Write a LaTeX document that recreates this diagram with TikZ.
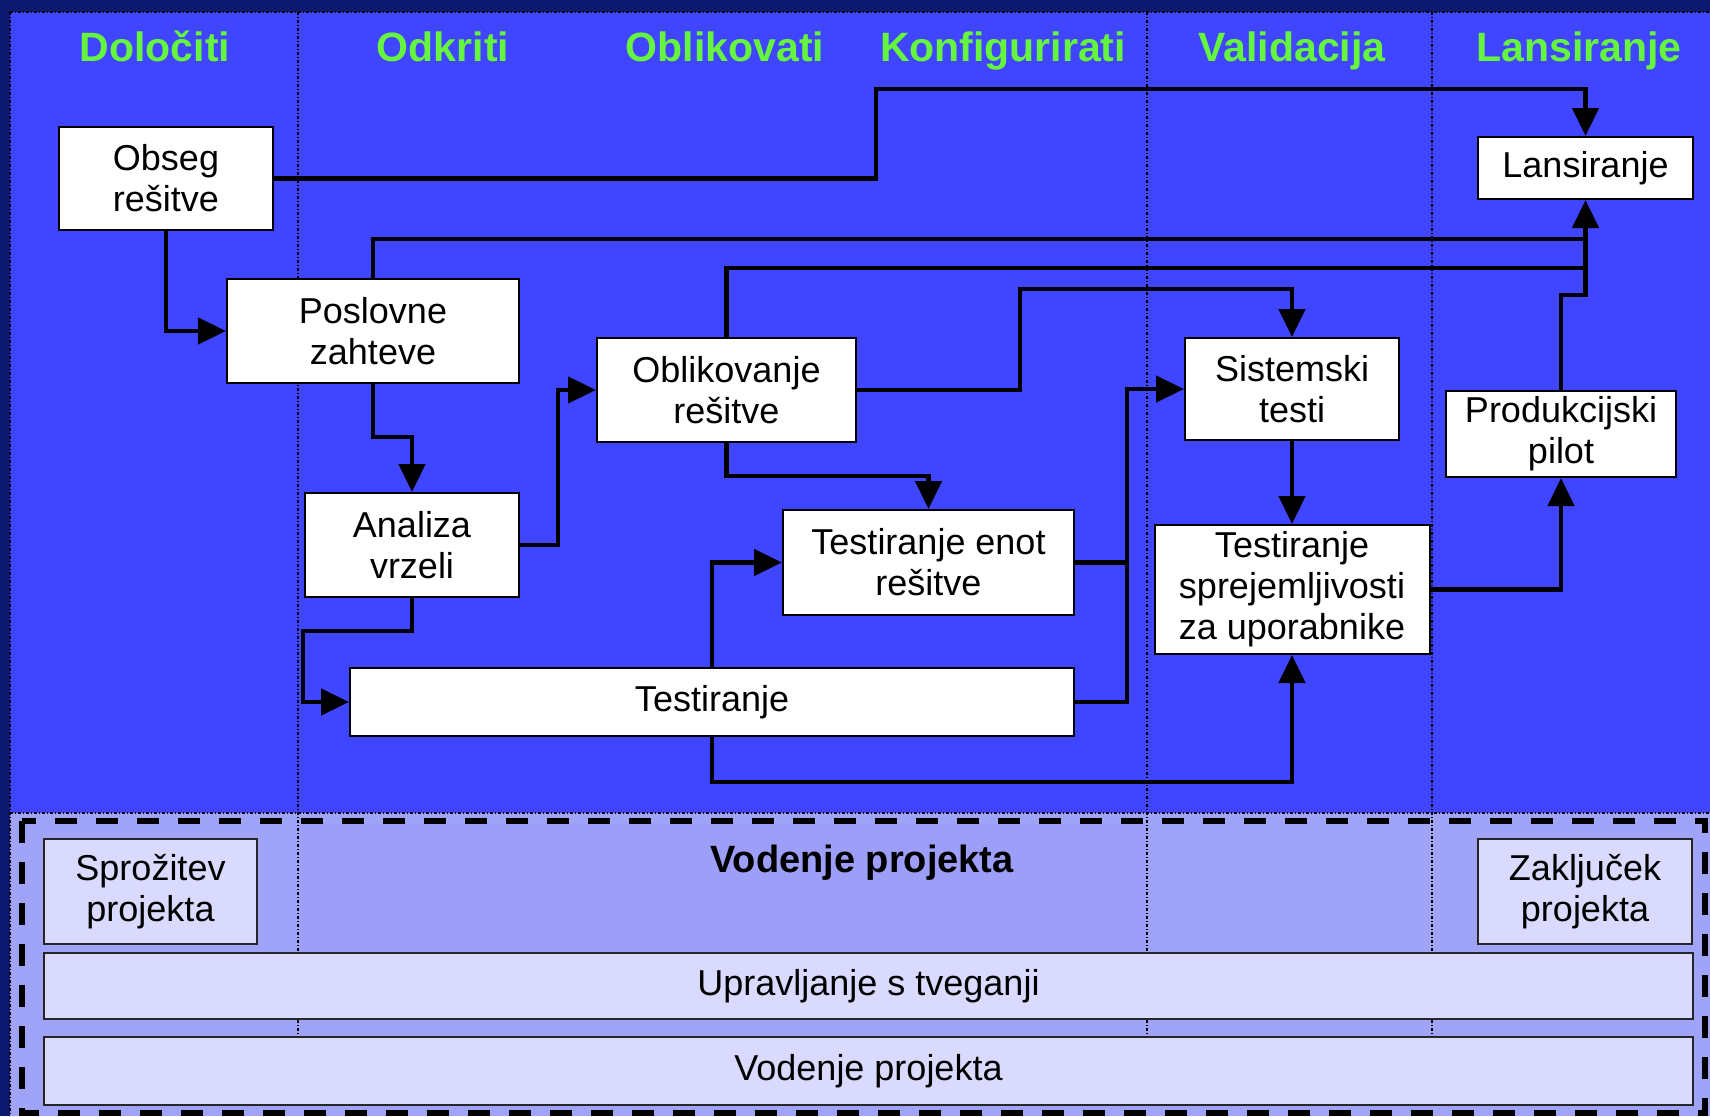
\documentclass[tikz,border=0pt]{standalone}
\usepackage{fontspec}
\setmainfont{Liberation Sans}
\usetikzlibrary{arrows.meta,calc}
\definecolor{navy}{HTML}{0B1A6E}
\definecolor{bgblue}{HTML}{4046FF}
\definecolor{lav}{HTML}{A0A4F8}
\definecolor{lavmid}{HTML}{9C9EF8}
\definecolor{lavbox}{HTML}{D9DAFE}
\definecolor{hdrgreen}{HTML}{66F53F}
\begin{document}
\begin{tikzpicture}[x=1pt,y=-1pt,
  box/.style={draw=black, line width=2pt, fill=white, inner sep=0pt, align=center, font=\fontsize{36}{41}\selectfont},
  lbox/.style={draw=black!85, line width=2.5pt, fill=lavbox, inner sep=0pt, align=center, font=\fontsize{36}{41}\selectfont},
  hdr/.style={anchor=base, text=hdrgreen, font=\fontsize{41}{45}\selectfont\bfseries},
  conn/.style={line width=4.5pt, -{Triangle[length=28pt,width=26pt]}},
  wire/.style={line width=4.5pt},
  sep/.style={line width=1.3pt, dash pattern=on 3pt off 2pt on 1pt off 2pt},
]
\useasboundingbox (0,0) rectangle (1710,1116);
% backgrounds
\fill[navy] (0,0) rectangle (1710,1116);
\fill[bgblue] (10,12) rectangle (1710,813);
\fill[lav] (10,813) rectangle (1710,1116);
\fill[lavmid] (298,824) rectangle (1147,953);
\draw[sep] (10,12) -- (1710,12);
\draw[sep] (10,813) -- (1710,813);
\draw[sep] (10,12) -- (10,1116);
% phase separators
\draw[sep] (298,12) -- (298,1037);
\draw[sep] (1147,12) -- (1147,1037);
\draw[sep] (1432,12) -- (1432,1037);
% dashed project-management frame
\draw[line width=6pt, dash pattern=on 22pt off 19pt] (22,821) rectangle (1705,1113);

% headers
\node[hdr] (h1) at (155,62) {Določiti};
\node[hdr] (h2) at (443,62) {Odkriti};
\node[hdr] (h3) at (725,62) {Oblikovati};
\node[hdr] (h4) at (1003,62) {Konfigurirati};
\node[hdr] (h5) at (1292,62) {Validacija};
\node[hdr] (h6) at (1579,62) {Lansiranje};

% upper boxes
\node[box, minimum width=214pt, minimum height=103pt] (obseg) at (166,178.5) {Obseg\\rešitve};
\node[box, minimum width=215pt, minimum height=62pt] (lans) at (1585.5,168) {Lansiranje};
\node[box, minimum width=292pt, minimum height=104pt] (posl) at (373,331) {Poslovne\\zahteve};
\node[box, minimum width=259pt, minimum height=104pt] (oblik) at (726.5,390) {Oblikovanje\\rešitve};
\node[box, minimum width=214pt, minimum height=102pt] (sist) at (1292,389) {Sistemski\\testi};
\node[box, minimum width=230pt, minimum height=86pt] (pilot) at (1561,434) {Produkcijski\\pilot};
\node[box, minimum width=214pt, minimum height=104pt] (anal) at (412,545) {Analiza\\vrzeli};
\node[box, minimum width=291pt, minimum height=105pt] (enot) at (928.5,562.5) {Testiranje enot\\rešitve};
\node[box, minimum width=275pt, minimum height=129pt] (tsu) at (1292,589.5) {Testiranje\\sprejemljivosti\\za uporabnike};
\node[box, minimum width=724pt, minimum height=68pt] (test) at (712,702) {Testiranje};

% lower boxes
\node[lbox, minimum width=213pt, minimum height=105pt] (sproz) at (150.5,891.5) {Sprožitev\\projekta};
\node[lbox, minimum width=214pt, minimum height=105pt] (zakl) at (1585,891.5) {Zaključek\\projekta};
\node[lbox, minimum width=1649pt, minimum height=66pt] (tveg) at (868.5,986) {Upravljanje s tveganji};
\node[lbox, minimum width=1649pt, minimum height=68pt] (vod) at (868.5,1071) {Vodenje projekta};
\node[anchor=base, font=\fontsize{38}{42}\selectfont\bfseries] (vodt) at (862,872) {Vodenje projekta};

% helper coordinates
\coordinate (c1) at (876,89);
\coordinate (y239) at (0,239);
\coordinate (y268) at (0,268);
\coordinate (jC) at (1561,295);
\coordinate (c5) at (1020,289);
\coordinate (y476) at (0,476);
\coordinate (y437) at (0,437);
\coordinate (x558) at (558,0);
\coordinate (c8) at (303,631);
\coordinate (x1127) at (1127,0);
\coordinate (y782) at (0,782);

% connectors
\draw[conn] (obseg.east) -| (c1) -| (lans.north);
\draw[conn] (obseg.south) |- (posl.west);
\draw[wire] (posl.north) |- (lans.south |- y239);
\draw[wire] (oblik.north) |- (lans.south |- y268);
\draw[conn] (pilot.north) -- (jC) -| (lans.south);
\draw[conn] (oblik.east) -| (c5) -| (sist.north);
\draw[conn] (oblik.south) -- (oblik.south |- y476) -| (enot.north);
\draw[conn] (posl.south) -- (posl.south |- y437) -| (anal.north);
\draw[conn] (anal.east) -- (anal.east -| x558) |- (oblik.west);
\draw[conn] (anal.south) |- (c8) |- (test.west);
\draw[conn] (test.north) |- (enot.west);
\draw[wire] (enot.east) -- (enot.east -| x1127);
\draw[conn] (test.east) -- (test.east -| x1127) |- (sist.west);
\draw[conn] (test.south) -- (test.south |- y782) -| (tsu.south);
\draw[conn] (sist.south) -- (tsu.north);
\draw[conn] (tsu.east) -| (pilot.south);
\end{tikzpicture}
\end{document}
